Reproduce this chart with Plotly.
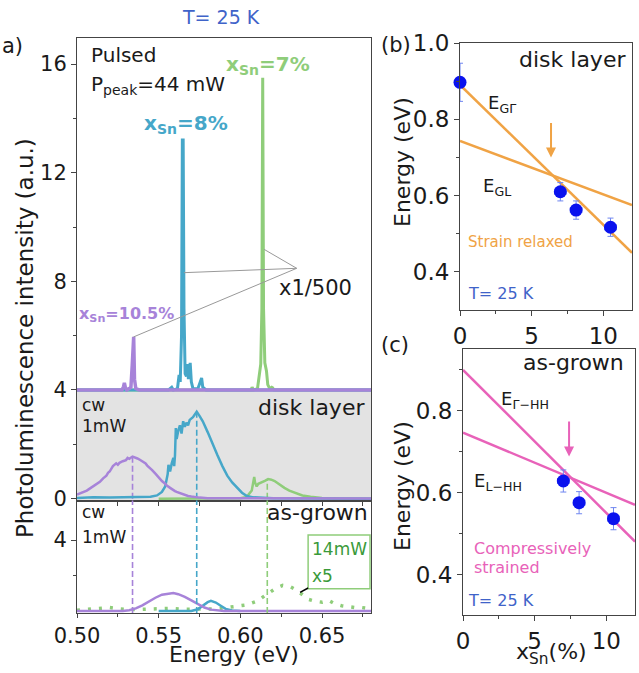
import plotly.graph_objects as go

W, H = 639, 673
def px(x): return x / W
def py(y): return 1 - y / H

FONT = "DejaVu Sans"
PURPLE = "#a783d9"
BLUE = "#46a7c9"
GREEN = "#8fcd7a"
ORANGE = "#f0a345"
PINK = "#e862b9"
DOT = "#0a12ee"
ERR = "#6f86f0"
TBLUE = "#3f63c9"
DARK = "#1a1a1a"

# ---------------- panel (a) data ----------------
PULSED_OFFSET = 4
pulsed_purple_E = [0.500, 0.5275, 0.5285, 0.5290, 0.5296, 0.5305, 0.5320, 0.5330, 0.5338, 0.5343,
                   0.5347, 0.5352, 0.5360, 0.5380, 0.680]
pulsed_purple_I = [0, 0, 0.12, 0.26, 0.10, 0, 0.05, 0.10, 0.9, 1.96, 1.96, 0.4, 0.05, 0, 0]

pulsed_blue_E = [0.500, 0.556, 0.5580, 0.5590, 0.5615, 0.5625, 0.5632, 0.5640, 0.5645, 0.5650,
                 0.5655, 0.5662, 0.5670, 0.5676, 0.5682, 0.5688, 0.5693, 0.5700, 0.5710, 0.5740,
                 0.5757, 0.5763, 0.5770, 0.5790, 0.680]
pulsed_blue_I = [0, 0, 0.1, 0, 0.05, 0.55, 0.3, 2.0, 9.2, 9.2, 3.0, 0.6, 0.5, 0.95, 0.4, 0.7,
                 1.0, 0.3, 0.05, 0.05, 0.3, 0.44, 0.1, 0, 0]

pulsed_green_E = [0.500, 0.604, 0.6065, 0.6072, 0.6080, 0.6105, 0.6115, 0.6125, 0.6132, 0.6137,
                  0.6142, 0.6150, 0.6160, 0.6168, 0.6180, 0.6192, 0.6198, 0.6205, 0.680]
pulsed_green_I = [0, 0, 0, 0.1, 0, 0.05, 0.5, 0.95, 3.0, 11.5, 3.0, 1.0, 0.7, 0.2, 0.05, 0.1,
                  0.08, 0, 0]

cw_purple_E = [0.500, 0.502, 0.504, 0.506, 0.508, 0.510, 0.512, 0.514, 0.516, 0.518, 0.519, 0.520,
               0.522, 0.524, 0.525, 0.526, 0.528, 0.530, 0.531, 0.532, 0.534, 0.536, 0.537, 0.538,
               0.540, 0.542, 0.543, 0.545, 0.546, 0.548, 0.549, 0.551, 0.552, 0.554, 0.555, 0.557,
               0.558, 0.560, 0.561, 0.563, 0.565, 0.568, 0.570, 0.573, 0.575, 0.580, 0.590, 0.600,
               0.620, 0.640, 0.660, 0.680]
cw_purple_I = [0.15, 0.2, 0.25, 0.3, 0.38, 0.45, 0.55, 0.62, 0.75, 0.85, 0.95, 1.0,
               1.2, 1.3, 1.25, 1.32, 1.38, 1.42, 1.5, 1.47, 1.55, 1.52, 1.48, 1.45,
               1.38, 1.3, 1.22, 1.12, 1.05, 0.92, 0.85, 0.72, 0.65, 0.55, 0.48, 0.4,
               0.35, 0.28, 0.25, 0.2, 0.15, 0.1, 0.08, 0.05, 0.04, 0.02, 0.02, 0.01,
               0.02, 0.01, 0.02, 0.01]

cw_blue_E = [0.500, 0.510, 0.520, 0.530, 0.535, 0.540, 0.545, 0.549, 0.552, 0.554, 0.5555, 0.556,
             0.557, 0.558, 0.559, 0.5595, 0.560, 0.5605, 0.561, 0.562, 0.563, 0.564, 0.565, 0.566,
             0.567, 0.568, 0.569, 0.571, 0.5733, 0.575, 0.577, 0.580, 0.583, 0.586, 0.589, 0.592,
             0.595, 0.598, 0.601, 0.604, 0.608, 0.620, 0.680]
cw_blue_I = [0.03, 0.05, 0.04, 0.06, 0.05, 0.08, 0.07, 0.12, 0.25, 0.45, 0.9, 1.25,
             1.0, 1.3, 1.5, 1.2, 1.6, 2.6, 2.2, 2.5, 2.7, 2.4, 2.85, 2.65,
             2.8, 2.7, 2.9, 3.0, 3.2, 3.05, 2.85, 2.45, 2.0, 1.6, 1.2, 0.85,
             0.6, 0.4, 0.22, 0.1, 0.05, 0.02, 0.0]

cw_green_E = [0.550, 0.580, 0.600, 0.603, 0.605, 0.607, 0.6085, 0.609, 0.610, 0.611, 0.613, 0.615,
              0.617, 0.619, 0.621, 0.624, 0.627, 0.630, 0.634, 0.638, 0.643, 0.650, 0.660, 0.680]
cw_green_I = [0.0, 0.01, 0.02, 0.05, 0.15, 0.3, 0.8, 0.6, 0.45, 0.55, 0.62, 0.66,
              0.72, 0.7, 0.65, 0.52, 0.4, 0.3, 0.2, 0.12, 0.07, 0.03, 0.01, 0.0]

ag_purple_E = [0.500, 0.520, 0.528, 0.532, 0.536, 0.540, 0.544, 0.548, 0.552, 0.556, 0.559, 0.562,
               0.566, 0.570, 0.574, 0.578, 0.582, 0.586, 0.590, 0.620, 0.680]
ag_purple_I = [0.0, 0.0, 0.0, 0.05, 0.15, 0.32, 0.55, 0.75, 0.92, 1.0, 1.02, 0.95,
               0.8, 0.6, 0.4, 0.2, 0.08, 0.02, 0.0, 0.0, 0.0]

ag_blue_E = [0.550, 0.570, 0.574, 0.577, 0.580, 0.582, 0.585, 0.588, 0.591, 0.595, 0.600]
ag_blue_I = [0.0, 0.0, 0.1, 0.3, 0.5, 0.57, 0.48, 0.3, 0.12, 0.03, 0.0]

ag_green_E = [0.500, 0.508, 0.515, 0.520, 0.526, 0.532, 0.540, 0.548, 0.556, 0.565, 0.575, 0.585,
              0.592, 0.598, 0.604, 0.610, 0.614, 0.618, 0.622, 0.626, 0.630, 0.634, 0.638, 0.642,
              0.646, 0.650, 0.654, 0.658, 0.662, 0.666, 0.670, 0.674, 0.678]
ag_green_I = [0.05, 0.1, 0.15, 0.2, 0.12, 0.08, 0.1, 0.12, 0.15, 0.1, 0.1, 0.12,
              0.2, 0.28, 0.35, 0.55, 0.8, 1.05, 1.3, 1.45, 1.4, 1.2, 0.9, 0.65,
              0.55, 0.5, 0.6, 0.4, 0.3, 0.25, 0.2, 0.2, 0.15]

peak_E = [0.534, 0.5733, 0.6165]          # purple, blue, green
cw_peak_I = [1.55, 3.2, 0.7]
peak_colors = [PURPLE, BLUE, GREEN]

# x1/500 leader lines (energy, intensity)
lead_from = (0.6345, 8.48)
lead_to = [(0.5655, 8.32), (0.6145, 9.18), (0.5345, 5.95)]

# ---------------- panel (b) data ----------------
b_x = [0.0, 7.0, 8.1, 10.5]
b_E = [0.897, 0.610, 0.562, 0.517]
b_xerr = [0.0, 0.4, 0.4, 0.4]
b_Eerr = [0.05, 0.024, 0.024, 0.024]
b_line_x = [0, 12]
b_EGG = [0.89, 0.45]
b_EGL = [0.743, 0.575]
b_arrow = (6.35, 0.794, 0.70)

# ---------------- panel (c) data ----------------
c_x = [7.0, 8.1, 10.5]
c_E = [0.629, 0.576, 0.537]
c_xerr = [0.4, 0.4, 0.4]
c_Eerr = [0.027, 0.027, 0.027]
c_line_x = [0, 12]
c_EGHH = [0.90, 0.481]
c_ELHH = [0.747, 0.571]
c_arrow = (7.4, 0.778, 0.689)

fig = go.Figure()

def line(x, y, xa, ya, color, width=2.5, dash=None, clip=True):
    fig.add_trace(go.Scatter(x=x, y=y, xaxis=xa, yaxis=ya, mode="lines",
                             line=dict(color=color, width=width, dash=dash),
                             hoverinfo="skip", cliponaxis=clip))

# middle panel (x, y): cw disk layer
for E, I, c in zip(peak_E, cw_peak_I, peak_colors):
    line([E, E], [0, I], "x", "y", c, width=1.6, dash="6px,3px")
line(cw_green_E, cw_green_I, "x", "y", GREEN, 2.5)
line(cw_blue_E, cw_blue_I, "x", "y", BLUE, 2.5)
line(cw_purple_E, cw_purple_I, "x", "y", PURPLE, 2.5)

# bottom panel (x2, y2): as-grown
line(ag_green_E, ag_green_I, "x2", "y2", GREEN, 3.5, dash="3px,8px")
line(ag_blue_E, ag_blue_I, "x2", "y2", BLUE, 2.5)
line(ag_purple_E, ag_purple_I, "x2", "y2", PURPLE, 2.5)

# top panel (x3, y3): pulsed
line(pulsed_green_E, [v + PULSED_OFFSET for v in pulsed_green_I], "x3", "y3", GREEN, 3)
line(pulsed_blue_E, [v + PULSED_OFFSET for v in pulsed_blue_I], "x3", "y3", BLUE, 3)
line(pulsed_purple_E, [v + PULSED_OFFSET for v in pulsed_purple_I], "x3", "y3", PURPLE, 3.5)

# panel b
line(b_line_x, b_EGG, "x4", "y4", ORANGE, 2.5)
line(b_line_x, b_EGL, "x4", "y4", ORANGE, 2.5)
fig.add_trace(go.Scatter(x=b_x, y=b_E, xaxis="x4", yaxis="y4", mode="markers",
                         marker=dict(color=DOT, size=13),
                         error_y=dict(type="data", array=b_Eerr, color=ERR, thickness=1, width=3),
                         error_x=dict(type="data", array=b_xerr, color=ERR, thickness=1, width=3),
                         cliponaxis=False, hoverinfo="skip"))
# panel c
line(c_line_x, c_EGHH, "x5", "y5", PINK, 2.5)
line(c_line_x, c_ELHH, "x5", "y5", PINK, 2.5)
fig.add_trace(go.Scatter(x=c_x, y=c_E, xaxis="x5", yaxis="y5", mode="markers",
                         marker=dict(color=DOT, size=13),
                         error_y=dict(type="data", array=c_Eerr, color=ERR, thickness=1, width=3),
                         error_x=dict(type="data", array=c_xerr, color=ERR, thickness=1, width=3),
                         cliponaxis=False, hoverinfo="skip"))

AX = dict(showline=True, linecolor="#444", linewidth=1, mirror=True, showgrid=False,
          zeroline=False, ticks="outside", ticklen=5, tickwidth=1, tickcolor="#444",
          automargin=False,
          tickfont=dict(family=FONT, size=21, color=DARK))
def minor(vals, ln=3):
    return dict(tickvals=vals, ticks="outside", ticklen=ln, tickwidth=1, tickcolor="#444", showgrid=False)

XD = [px(77), px(371)]
XR = [0.5, 0.68]
layout = dict(
    template="none",
    width=W, height=H, margin=dict(l=0, r=0, t=0, b=0, autoexpand=False), showlegend=False,
    paper_bgcolor="white", plot_bgcolor="rgba(0,0,0,0)",
    font=dict(family=FONT, color=DARK),
    xaxis=dict(AX, domain=XD, range=XR, anchor="y", tickvals=[0.525, 0.55, 0.575, 0.6, 0.625, 0.65, 0.675],
               showticklabels=False, ticklen=4),
    yaxis=dict(AX, domain=[py(500.5), py(390)], range=[-0.066, 4.0], anchor="x", tickvals=[0],
               ticktext=["0"], minor=minor([2])),
    xaxis2=dict(AX, domain=XD, range=XR, anchor="y2", tickvals=[0.5, 0.55, 0.6, 0.65],
                ticktext=["0.50", "0.55", "0.60", "0.65"], minor=minor([0.525, 0.575, 0.625, 0.675]), ticklen=4),
    yaxis2=dict(AX, domain=[py(613), py(500.5)], range=[-0.11, 6.23], anchor="x2", tickvals=[4],
                ticktext=["4"], minor=minor([2])),
    xaxis3=dict(AX, domain=XD, range=XR, anchor="y3", side="top", mirror=False, ticks="",
                showticklabels=False),
    yaxis3=dict(AX, domain=[py(392), py(38)], range=[3.926, 16.96], anchor="x3", tickvals=[4, 8, 12, 16],
                minor=minor([6, 10, 14])),
    xaxis4=dict(AX, domain=[px(460), px(632)], range=[0, 12], anchor="y4", tickvals=[0, 5, 10],
                minor=minor([2.5, 7.5]), tickfont=dict(family=FONT, size=23, color=DARK)),
    yaxis4=dict(AX, domain=[py(310), py(43)], range=[0.3, 1.0], anchor="x4", tickvals=[0.4, 0.6, 0.8, 1.0],
                ticktext=["0.4", "0.6", "0.8", "1.0"], minor=minor([0.5, 0.7, 0.9]),
                tickfont=dict(family=FONT, size=23, color=DARK)),
    xaxis5=dict(AX, domain=[px(463), px(635)], range=[0, 12], anchor="y5", tickvals=[0, 5, 10],
                minor=minor([2.5, 7.5]), tickfont=dict(family=FONT, size=23, color=DARK)),
    yaxis5=dict(AX, domain=[py(615), py(349)], range=[0.302, 0.951], anchor="x5", tickvals=[0.4, 0.6, 0.8],
                ticktext=["0.4", "0.6", "0.8"], minor=minor([0.5, 0.7, 0.9]),
                tickfont=dict(family=FONT, size=23, color=DARK)),
)
fig.update_layout(**layout)

shapes = []
# gray background of the cw disk-layer panel
shapes.append(dict(type="rect", xref="paper", yref="paper", x0=px(77), x1=px(371), y0=py(500.5), y1=py(390),
                   fillcolor="#e3e3e3", line=dict(width=0), layer="below"))
# dashed lines through the as-grown panel
for E, c in zip(peak_E, peak_colors):
    shapes.append(dict(type="line", xref="x2", yref="y2 domain", x0=E, x1=E, y0=0, y1=1,
                       line=dict(color=c, width=1.6, dash="6px,3px")))
# x1/500 leader lines
for (ex, ey) in lead_to:
    shapes.append(dict(type="line", xref="x3", yref="y3", x0=lead_from[0], y0=lead_from[1], x1=ex, y1=ey,
                       line=dict(color="#999", width=1)))
# 14mW x5 box and leader
shapes.append(dict(type="rect", xref="x2", yref="y2", x0=0.6415, x1=0.6794, y0=1.25, y1=4.29,
                   line=dict(color=GREEN, width=1.5)))
shapes.append(dict(type="line", xref="x2", yref="y2", x0=0.6366, y0=1.05, x1=0.6415, y1=1.3,
                   line=dict(color="black", width=1.5)))
fig.update_layout(shapes=shapes)

ann = []
def T(text, x, y, size, color=DARK, xa="left", ya="middle", angle=0):
    ann.append(dict(text=text, x=px(x), y=py(y), xref="paper", yref="paper", xanchor=xa, yanchor=ya,
                    showarrow=False, textangle=angle, font=dict(family=FONT, size=size, color=color)))

T("T= 25 K", 221, 17, 19, TBLUE, xa="center")
T("a)", 0, 46, 21)
T("Pulsed", 89, 55, 20)
T("P<sub>peak</sub>=44 mW", 89, 85, 20)
T("<b>x<sub>Sn</sub>=7%</b>", 224, 65, 20, GREEN)
T("<b>x<sub>Sn</sub>=8%</b>", 142, 124, 20, BLUE)
T("<b>x<sub>Sn</sub>=10.5%</b>", 77, 314, 16, PURPLE)
T("x1/500", 315, 288, 21, xa="center")
T("cw", 80, 405, 17)
T("1mW", 80, 426, 17)
T("disk layer", 367, 407, 22, xa="right")
T("cw", 80, 512, 17)
T("1mW", 80, 537, 17)
T("as-grown", 370, 512, 22, xa="right")
T("14mW", 310, 549, 17, "#3a9a3a")
T("x5", 310, 576, 17, "#3a9a3a")
T("Photoluminescence intensity (a.u.)", 25, 338, 23, xa="center", angle=-90)
T("Energy (eV)", 234, 654, 22, xa="center")
T("(b)", 379, 45, 21)
T("disk layer", 628, 59, 22, xa="right")
T("E<sub>GΓ</sub>", 486, 104, 18)
T("E<sub>GL</sub>", 481, 187, 18)
T("Strain relaxed", 466, 242, 15, ORANGE)
T("T= 25 K", 466, 293, 16, TBLUE)
T("Energy (eV)", 402, 162, 22, xa="center", angle=-90)
T("(c)", 379, 345, 21)
T("as-grown", 626, 362, 22, xa="right")
T("E<sub>Γ−HH</sub>", 499, 400, 18)
T("E<sub>L−HH</sub>", 472, 482, 18)
T("Compressively", 472, 548, 16, PINK)
T("strained", 472, 567, 16, PINK)
T("T= 25 K", 466, 600, 16, TBLUE)
T("Energy (eV)", 402, 486, 22, xa="center", angle=-90)
T("x<sub>Sn</sub>(%)", 551, 653, 22, xa="center")

# arrows in panels b and c
ann.append(dict(x=b_arrow[0], y=b_arrow[2], ax=b_arrow[0], ay=b_arrow[1], xref="x4", yref="y4",
                axref="x4", ayref="y4", text="", showarrow=True, arrowhead=2, arrowsize=1,
                arrowwidth=2, arrowcolor=ORANGE))
ann.append(dict(x=c_arrow[0], y=c_arrow[2], ax=c_arrow[0], ay=c_arrow[1], xref="x5", yref="y5",
                axref="x5", ayref="y5", text="", showarrow=True, arrowhead=2, arrowsize=1,
                arrowwidth=2, arrowcolor=PINK))
fig.update_layout(annotations=ann)

fig.write_html("out.html", config={"displayModeBar": False},
               post_script="document.body.style.margin='0px';document.body.style.padding='0px';"
                           "document.documentElement.style.overflow='hidden';")
